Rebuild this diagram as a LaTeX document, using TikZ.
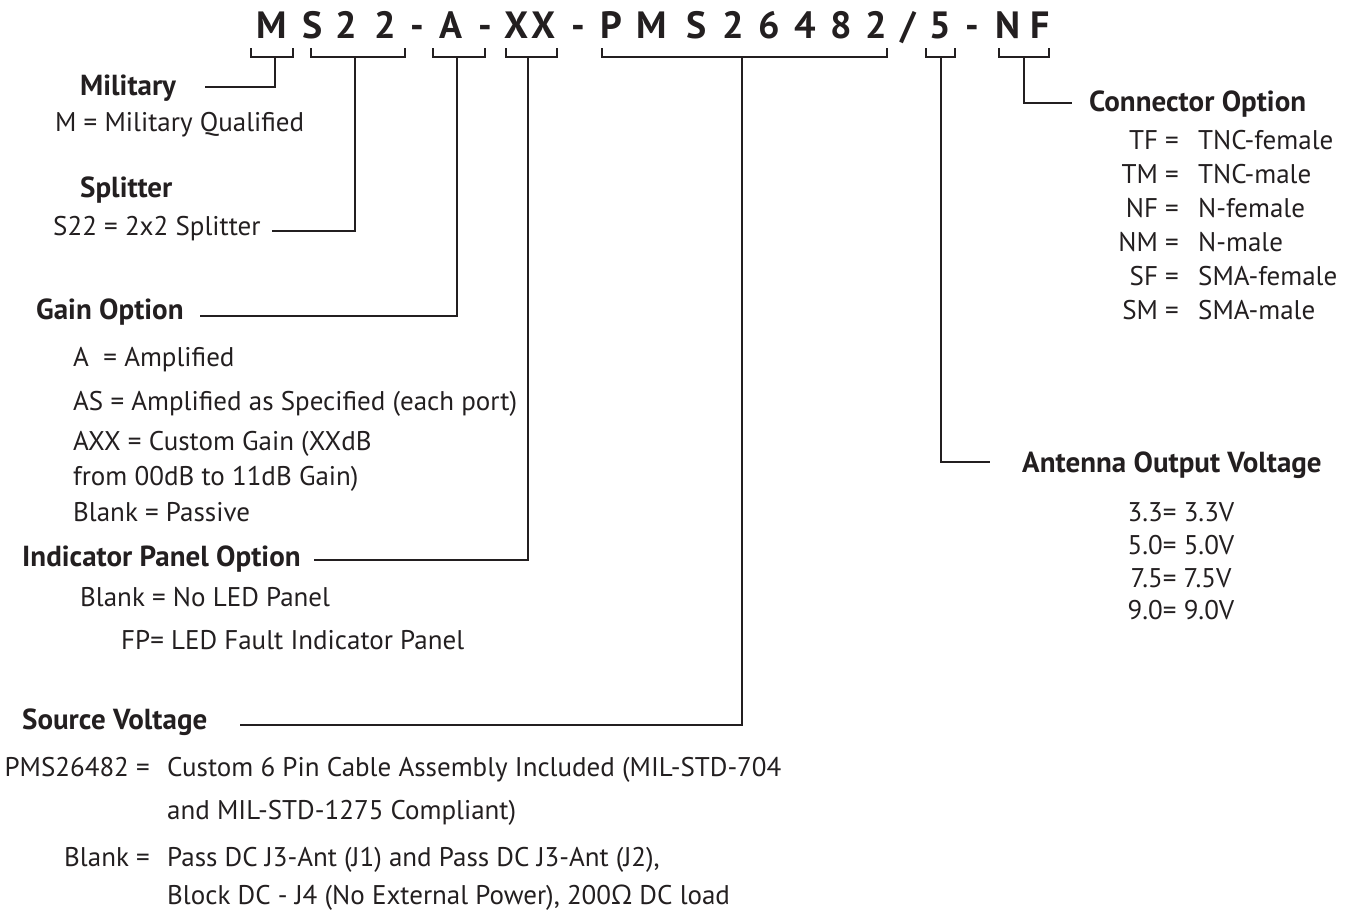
\documentclass[tikz,border=0pt]{standalone}
\usepackage{fontspec}
\setmainfont{PT Sans}
\newfontfamily\ohmfont{Open Sans}
\usetikzlibrary{positioning}
\definecolor{ink}{RGB}{35,31,32}
\newcommand{\slashch}{/}

\begin{document}
\begin{tikzpicture}[x=1pt, y=-1pt,
    code/.style={font=\fontsize{38}{42}\selectfont\bfseries, text=ink, inner sep=0pt, anchor=base},
    head/.style={font=\fontsize{29}{34}\selectfont\bfseries, text=ink, inner sep=0pt, anchor=base west},
    item/.style={font=\fontsize{27}{32}\selectfont, text=ink, inner sep=0pt, anchor=base west},
    key/.style={item, anchor=base east},
    volt/.style={item, anchor=base},
    lead/.style={draw=ink, line width=2.5pt}
  ]
  \useasboundingbox (0,0) rectangle (1351,914);

  % part number
  \foreach \ch/\x [count=\i] in {M/272, S/313, 2/346, 2/385, -/417, A/451, -/485, X/517, X/544, -/578,
      P/611, M/652, S/697, 2/733, 6/769, 4/805, 8/841, 2/876, \slashch/908, 5/940, -/972, N/1008, F/1040}
    \node[code] (c\i) at (\x,38) {\ch};

  % brackets under the groups
  \foreach \l/\r/\s/\n in {251/293/275/brMil, 311/405/355/brSplit, 433/485/457/brGain, 506/557/528/brInd,
      602/887/742/brSrc, 926/955/941/brAnt, 999/1049/1024/brCon} {
    \draw[lead] (\l,48) -- (\l,57) -- (\r,57) -- (\r,48);
    \coordinate (\n) at (\s,57);
  }

  % left column
  \node[head] (military) at (80,95) {Military};
  \node[item] (milqual) at (55,131) {M = Military Qualified};
  \node[head] (splitter) at (80,197) {Splitter};
  \node[item] (splitval) at (53,235) {S22 = 2x2 Splitter};
  \node[head] (gain) at (36,319) {Gain Option};
  \node[item] (gainA) at (73,366) {A \ = Amplified};
  \node[item] (gainAS) at (73,410) {AS = Amplified as Specified (each port)};
  \node[item] (gainAXX) at (73,450) {AXX = Custom Gain (XXdB};
  \node[item] (gainAXXb) at (73,485) {from 00dB to 11dB Gain)};
  \node[item] (gainBlank) at (73,521) {Blank = Passive};
  \node[head] (indicator) at (22,566) {Indicator Panel Option};
  \node[item] (indBlank) at (80,606) {Blank = No LED Panel};
  \node[item] (indFP) at (121,649) {FP= LED Fault Indicator Panel};
  \node[head] (source) at (22,729) {Source Voltage};
  \node[key] (srcPMS) at (150,776) {PMS26482 =};
  \node[item] (srcPMSval) at (167,776) {Custom 6 Pin Cable Assembly Included (MIL-STD-704};
  \node[item] (srcPMSvalb) at (167,819) {and MIL-STD-1275 Compliant)};
  \node[key] (srcBlank) at (150,866) {Blank =};
  \node[item] (srcBlankval) at (167,866) {Pass DC J3-Ant (J1) and Pass DC J3-Ant (J2),};
  \node[item] (srcBlankvalb) at (167,904) {Block DC - J4 (No External Power), 200{\ohmfont Ω} DC load};

  % right column
  \node[head] (connector) at (1089,111) {Connector Option};
  \foreach \k/\v [count=\i] in {TF/TNC-female, TM/TNC-male, NF/N-female, NM/N-male, SF/SMA-female, SM/SMA-male} {
    \node[key] (conkey\i) at (1179,{115+34*\i}) {\k\ =};
    \node[item] (conval\i) at (1198,{115+34*\i}) {\v};
  }
  \node[head] (antenna) at (1022,472) {Antenna Output Voltage};
  \node[volt] (volt1) at (1181,521) {3.3= 3.3V};
  \node[volt] (volt2) at (1181,554) {5.0= 5.0V};
  \node[volt] (volt3) at (1181,587) {7.5= 7.5V};
  \node[volt] (volt4) at (1181,619) {9.0= 9.0V};

  % leads
  \coordinate (endMil) at (205,87);
  \coordinate (endSplit) at (272,231);
  \coordinate (endGain) at (200,316);
  \coordinate (endInd) at (314,560);
  \coordinate (endSrc) at (240,725);
  \coordinate (endAnt) at (990,462);
  \coordinate (endCon) at (1072,103);
  \begin{scope}[lead]
  \draw (brMil) |- (endMil);
  \draw (brSplit) |- (endSplit);
  \draw (brGain) |- (endGain);
  \draw (brInd) |- (endInd);
  \draw (brSrc) |- (endSrc);
  \draw (brAnt) |- (endAnt);
  \draw (brCon) |- (endCon);
  \end{scope}
\end{tikzpicture}
\end{document}
